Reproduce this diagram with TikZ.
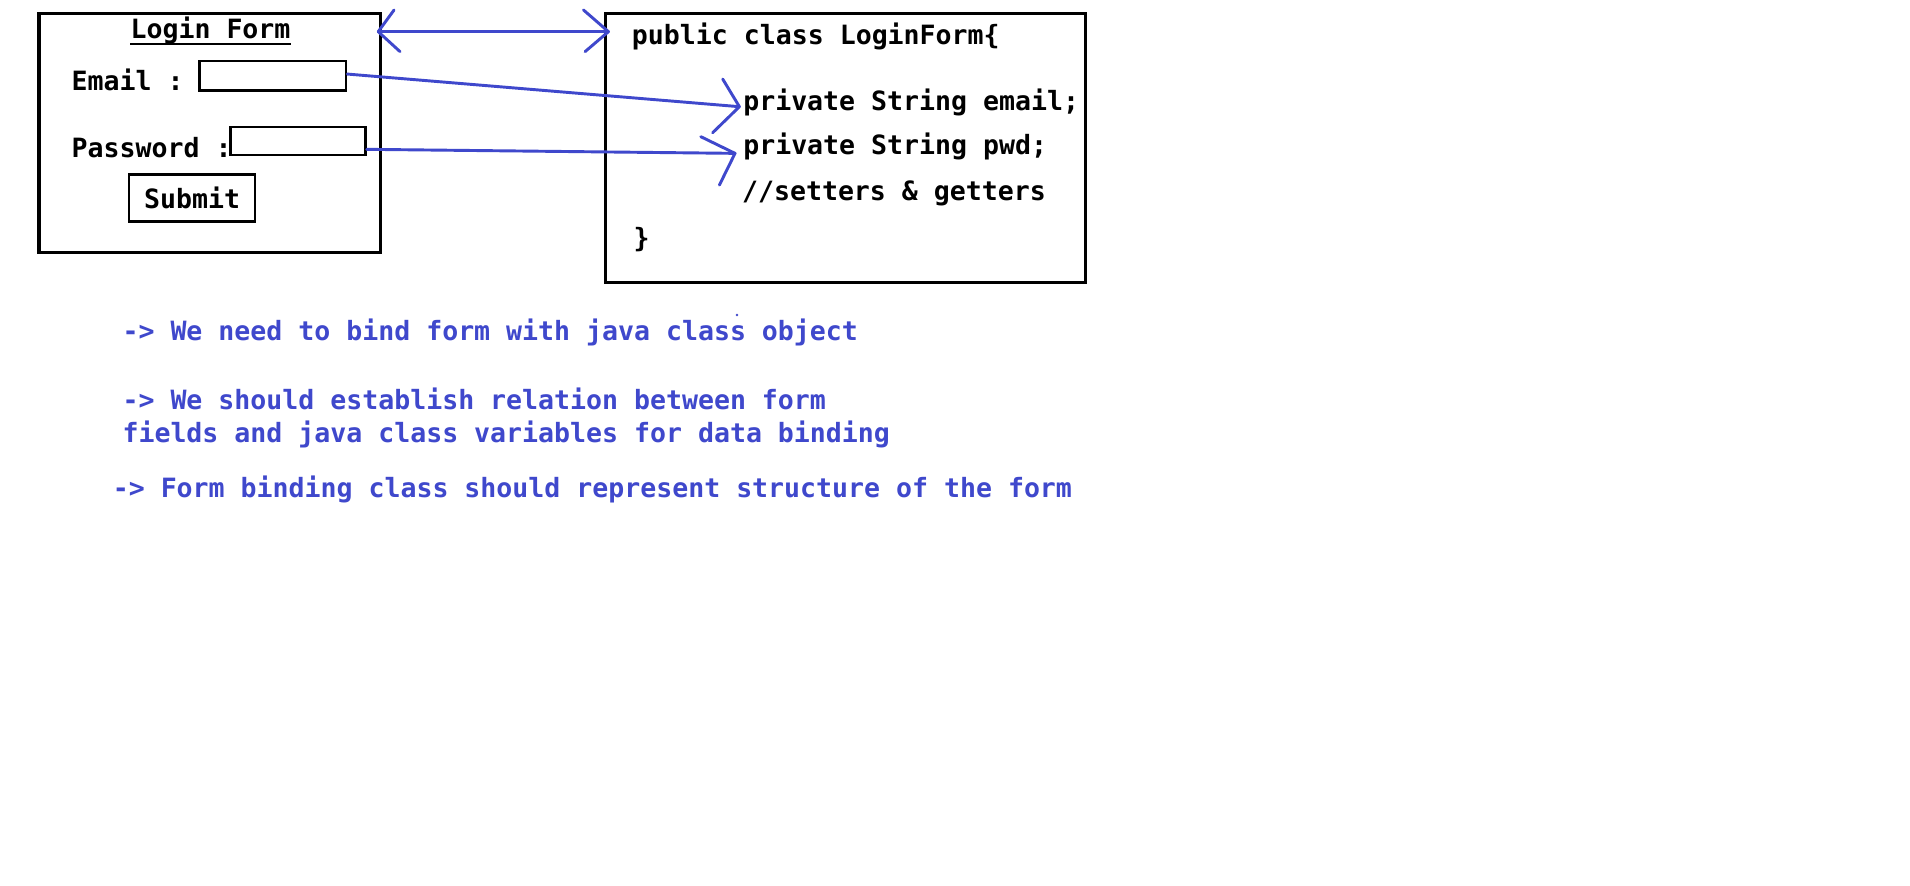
\documentclass[tikz,border=0pt]{standalone}
\usepackage{fontspec}
\newfontfamily\mono{DejaVu Sans Mono}
\definecolor{ink}{HTML}{3F48CC}
\newcommand{\codefnt}{\mono\bfseries\fontsize{21.8pt}{26pt}\selectfont}
\newcommand{\notefnt}{\mono\bfseries\fontsize{21.8pt}{26pt}\selectfont}
\tikzset{
  box/.style={draw=black, line width=2.5pt, inner sep=0pt, fill=none},
  field/.style={draw=black, line width=2.2pt, inner sep=0pt},
  code/.style={anchor=base west, inner sep=0pt, font=\codefnt},
  note/.style={anchor=base west, inner sep=0pt, text=ink, font=\notefnt},
  link/.style={draw=ink, line width=2.4pt, line cap=round, line join=round}
}
\begin{document}
\begin{tikzpicture}[x=1pt,y=-1pt]
\useasboundingbox[fill=white] (0,0) rectangle (1568,727);

% left form
\node[box, minimum width=280pt, minimum height=196pt] (form) at (172,109) {};
\node[code] (title) at (107,32) {Login Form};
\draw[line width=2pt] ([yshift=-4pt]title.base west) -- ([yshift=-4pt]title.base east);
\node[code] (emaillbl) at (58.6,74) {Email :};
\node[field, minimum width=120pt, minimum height=24.4pt] (emailfield) at (224,62.2) {};
\node[code] (pwdlbl) at (58.6,129.3) {Password :};
\node[field, minimum width=110.7pt, minimum height=23pt] (pwdfield) at (244.6,115.8) {};
\node[field, minimum width=103.4pt, minimum height=38.6pt, font=\codefnt] (submit) at (157.7,162.7) {Submit};

% right class
\node[box, minimum width=394pt, minimum height=221pt] (cls) at (694,121.5) {};
\node[code] (c1) at (518.6,36.3) {public class LoginForm\{};
\node[code] (c2) at (610,91) {private String email;};
\node[code] (c3) at (610,127.1) {private String pwd;};
\node[code] (c4) at (609,164.3) {//setters \& getters};
\node[code] (c5) at (520,203.5) {\}};

% double arrow
\coordinate (dL) at (310.5,26);
\coordinate (dR) at (499.5,26);
\coordinate (dL1) at (323.5,8.2);
\coordinate (dL2) at (328.4,42.4);
\coordinate (dR1) at (479,8.2);
\coordinate (dR2) at (480.3,42.4);
\draw[link] (dL) -- (dR);
\draw[link] (dL1) -- (dL) -- (dL2);
\draw[link] (dR1) -- (dR) -- (dR2);

% email connector
\coordinate (eTip) at (607,87.6);
\coordinate (eH1) at (593.3,64.9);
\coordinate (eH2) at (585,109);
\draw[link] ([yshift=1.4pt]emailfield.east) -- (eTip);
\draw[link] (eH1) -- (eTip) -- (eH2);

% password connector
\coordinate (pTip) at (603.4,125.9);
\coordinate (pH1) at (575.3,112.2);
\coordinate (pH2) at (590.6,151.9);
\draw[link] ([yshift=-6.8pt]pwdfield.east) -- (pTip);
\draw[link] (pH1) -- (pTip) -- (pH2);

% notes
\node[note] (n1) at (100.4,279.7) {-> We need to bind form with java class object};
\node[note] (n2) at (100.4,335.9) {-> We should establish relation between form};
\node[note] (n3) at (100.4,363.3) {fields and java class variables for data binding};
\node[note] (n4) at (92.4,408.5) {-> Form binding class should represent structure of the form};
\fill[ink] (605,258.6) circle (1.1);
\end{tikzpicture}
\end{document}
